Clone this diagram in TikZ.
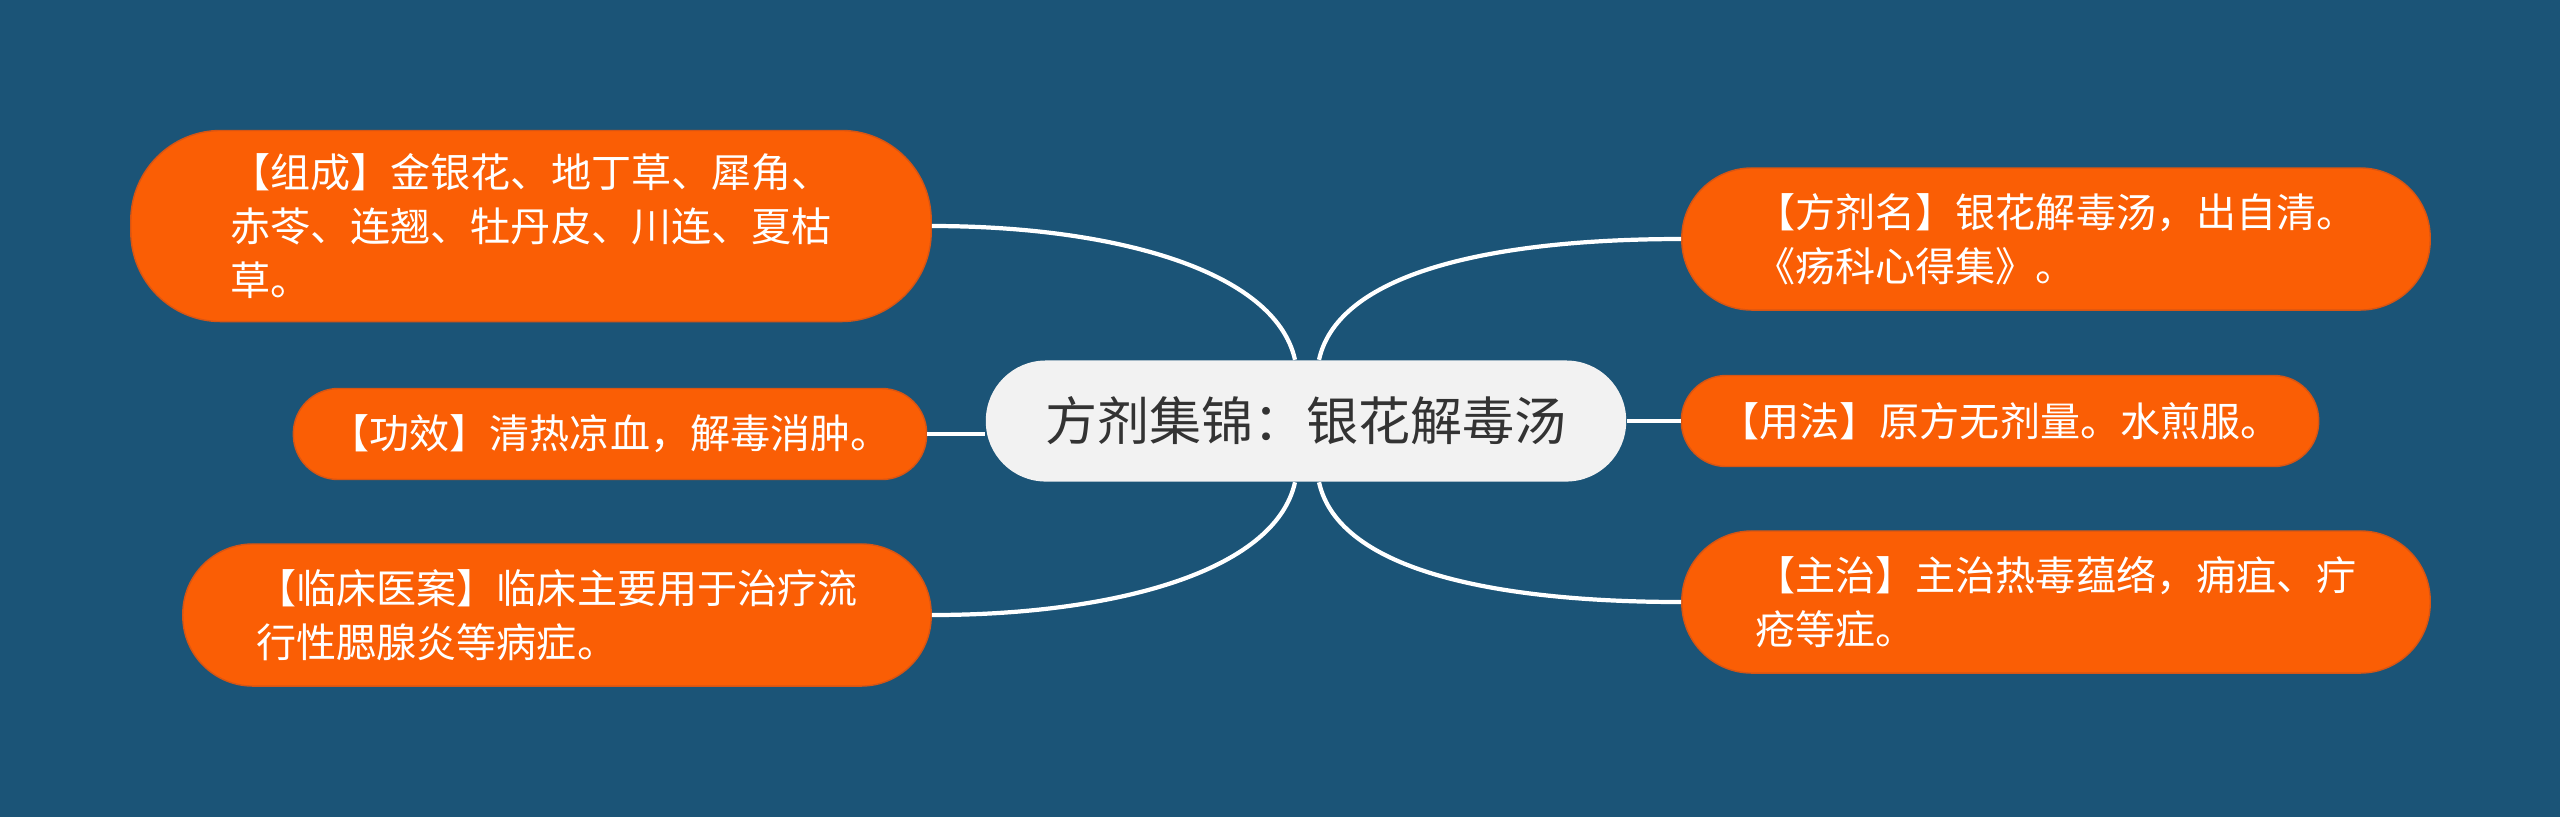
\documentclass[tikz,border=0pt]{standalone}
\usepackage{fontspec}
\setmainfont{Noto Sans CJK SC}
\definecolor{bgblue}{RGB}{27,84,119}
\definecolor{leaforange}{RGB}{250,94,5}
\definecolor{leafedge}{RGB}{215,85,20}
\definecolor{rootgray}{RGB}{242,242,242}
\definecolor{roottext}{RGB}{51,51,51}

\begin{document}
\begin{tikzpicture}[x=0.01cm,y=-0.01cm,
    link/.style={draw=white,line width=1.2pt}]
    \fill[bgblue] (0,0) rectangle (2560,817);
    \useasboundingbox (0,0) rectangle (2560,817);

    \node[fill=rootgray,text=roottext,inner sep=0pt,minimum width=6.4cm,minimum height=1.21cm,
          rounded corners=0.6cm,font=\fontsize{14.8pt}{18pt}\selectfont] (0) at (1306,421) {方剂集锦：银花解毒汤};

    \begin{scope}[every node/.style={fill=leaforange,draw=leafedge,line width=0.4pt,text=white,
        inner sep=0pt,align=left,font=\fontsize{11.4pt}{15.4pt}\selectfont}]
      \node[minimum width=8cm,minimum height=1.91cm,rounded corners=0.9cm] (1) at (531,226)
        {【组成】金银花、地丁草、犀角、\\赤苓、连翘、牡丹皮、川连、夏枯\\草。};
      \node[minimum width=6.33cm,minimum height=0.91cm,rounded corners=0.45cm] (2) at (610,434)
        {【功效】清热凉血，解毒消肿。};
      \node[minimum width=7.48cm,minimum height=1.42cm,rounded corners=0.7cm] (3) at (557,615)
        {【临床医案】临床主要用于治疗流\\行性腮腺炎等病症。};
      \node[minimum width=7.48cm,minimum height=1.42cm,rounded corners=0.7cm] (4) at (2056,239)
        {【方剂名】银花解毒汤，出自清。\\《疡科心得集》。};
      \node[minimum width=6.37cm,minimum height=0.91cm,rounded corners=0.45cm] (5) at (2000,421)
        {【用法】原方无剂量。水煎服。};
      \node[minimum width=7.48cm,minimum height=1.42cm,rounded corners=0.7cm] (6) at (2056,602)
        {【主治】主治热毒蕴络，痈疽、疔\\疮等症。};
    \end{scope}

    % branch roots on the central topic
    \coordinate (nl) at ([xshift=-0.11cm]0.north);
    \coordinate (nr) at ([xshift=0.13cm]0.north);
    \coordinate (sl) at ([xshift=-0.11cm]0.south);
    \coordinate (sr) at ([xshift=0.13cm]0.south);

    \draw[link] (nl) .. controls +(-20,-90) and +(180,0) .. (1.east);
    \draw[link] (2.east) -- (2.east -| 0.west);
    \draw[link] (sl) .. controls +(-20,90) and +(180,0) .. (3.east);
    \draw[link] (nr) .. controls +(20,-90) and +(-180,0) .. (4.west);
    \draw[link] (0.east) -- (0.east -| 5.west);
    \draw[link] (sr) .. controls +(20,90) and +(-180,0) .. (6.west);
\end{tikzpicture}
\end{document}
